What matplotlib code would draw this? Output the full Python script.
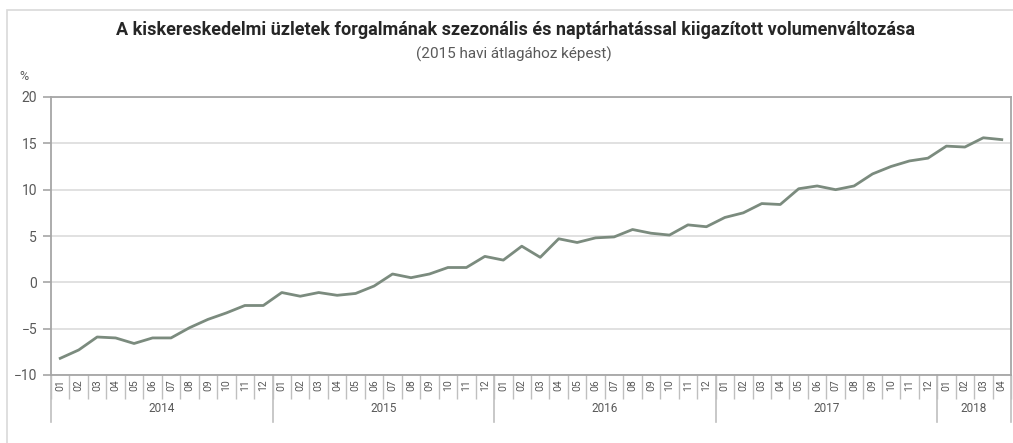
import matplotlib
matplotlib.use('Agg')
import matplotlib.pyplot as plt
import matplotlib.transforms as mtransforms
from matplotlib.patches import Rectangle
import numpy as np

plt.rcParams['font.family'] = ['Roboto', 'DejaVu Sans']

# adatok: 2014.01 - 2018.04
years = ['2014', '2015', '2016', '2017', '2018']
months_per_year = [12, 12, 12, 12, 4]
values = [
    -8.2, -7.3, -5.9, -6.0, -6.6, -6.0, -6.0, -4.9, -4.0, -3.3, -2.5, -2.5,
    -1.1, -1.5, -1.1, -1.4, -1.2, -0.4, 0.9, 0.5, 0.9, 1.6, 1.6, 2.8,
    2.4, 3.9, 2.7, 4.7, 4.3, 4.8, 4.9, 5.7, 5.3, 5.1, 6.2, 6.0,
    7.0, 7.5, 8.5, 8.4, 10.1, 10.4, 10.0, 10.4, 11.7, 12.5, 13.1, 13.4,
    14.7, 14.6, 15.6, 15.4,
]
month_labels = [f'{m:02d}' for n in months_per_year for m in range(1, n + 1)]

title = 'A kiskereskedelmi üzletek forgalmának szezonális és naptárhatással kiigazított volumenváltozása'
subtitle = '(2015 havi átlagához képest)'

line_color = '#7b8b7e'
axis_color = '#a6a6a6'
grid_color = '#dcdcdc'
text_color = '#595959'

W, H = 1013, 443
fig = plt.figure(figsize=(W / 100, H / 100), dpi=100)
ax = fig.add_axes([51 / W, 1 - 375 / H, 960 / W, 278 / H])

# külső keret
fig.patches.append(Rectangle((7 / W, -0.1), 1.2, 1 - 10 / H + 0.1, transform=fig.transFigure,
                             fill=False, edgecolor='#d9d9d9', linewidth=1.2))

x = np.arange(len(values))
ax.plot(x, values, color=line_color, linewidth=2, zorder=3)

ax.set_xlim(-0.5, len(values) - 0.5)
ax.set_ylim(-10, 20)
ax.set_yticks(range(-10, 21, 5))
ax.grid(axis='y', color=grid_color, linewidth=1.2)
ax.set_axisbelow(True)

for side in ['left', 'right', 'bottom', 'top']:
    ax.spines[side].set_color(axis_color)
    ax.spines[side].set_linewidth(1.3)

ax.tick_params(axis='y', length=6, width=1.2, color=axis_color, labelcolor=text_color,
               labelsize=10, pad=4)

# hónap elválasztók (major) és címkék (minor)
ax.set_xticks(np.arange(len(values) + 1) - 0.5)
ax.set_xticklabels([])
ax.tick_params(axis='x', which='major', length=17, width=1, color='#bfbfbf')
ax.set_xticks(x, minor=True)
ax.set_xticklabels(month_labels, minor=True, rotation=90, fontsize=7.5, color=text_color)
ax.tick_params(axis='x', which='minor', length=0, pad=3)

# évek
trans = mtransforms.blended_transform_factory(ax.transData, ax.transAxes)
start = 0
boundaries = [0]
for yr, n in zip(years, months_per_year):
    ax.text(start + n / 2 - 0.5, -33 / 278, yr, transform=trans, ha='center', va='center',
            fontsize=8.5, color=text_color)
    start += n
    boundaries.append(start)
for b in boundaries:
    ax.plot([b - 0.5, b - 0.5], [0, -47 / 278], transform=trans, color='#bfbfbf',
            linewidth=1.2, clip_on=False)

fig.text(515 / W, 1 - 30 / H, title, ha='center', va='center', fontsize=13,
         fontweight='bold', color='#262626')
fig.text(514 / W, 1 - 54 / H, subtitle, ha='center', va='center', fontsize=11,
         color=text_color)
fig.text(24 / W, 1 - 76 / H, '%', ha='center', va='center', fontsize=9, color=text_color)

fig.savefig('out.png', dpi=100)
